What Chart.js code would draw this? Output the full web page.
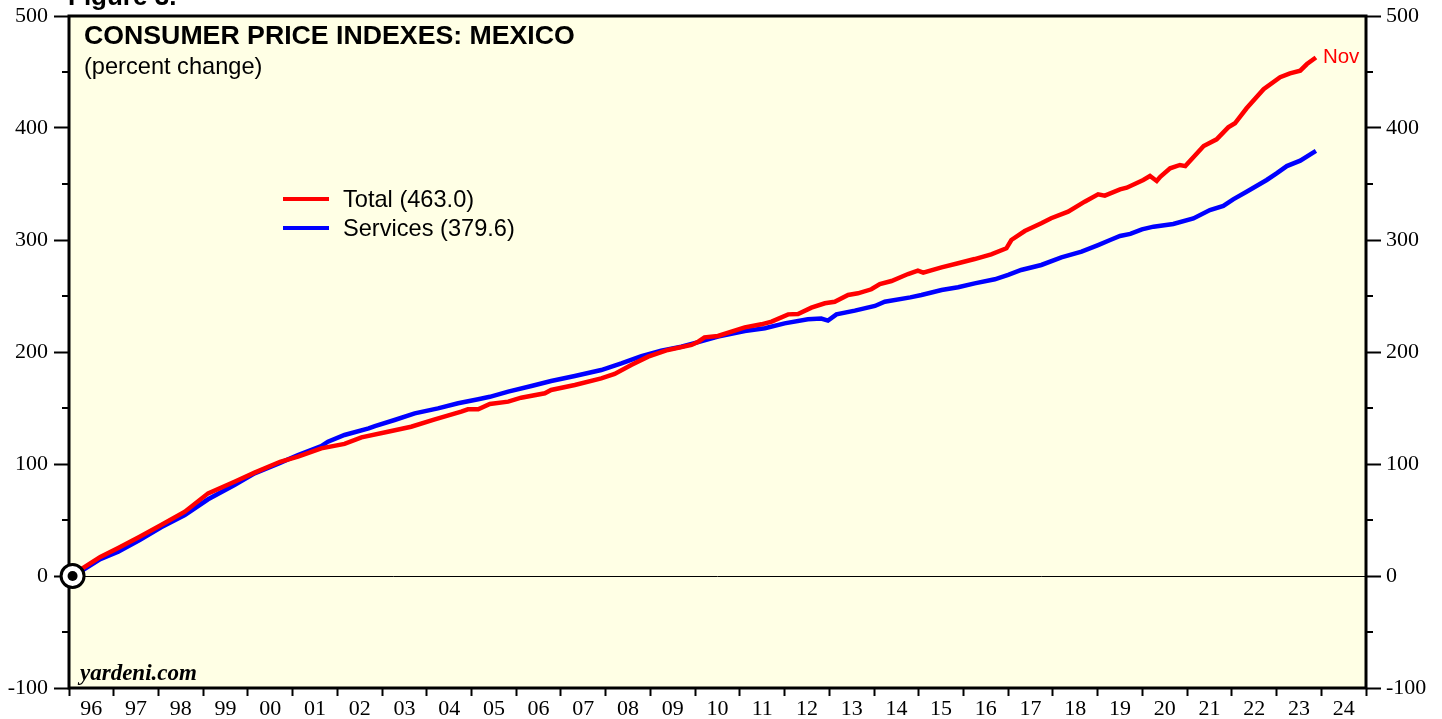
<!DOCTYPE html>
<html>
<head>
<meta charset="utf-8">
<title>Consumer Price Indexes: Mexico</title>
<script src="https://cdn.jsdelivr.net/npm/chart.js@4.4.1/dist/chart.umd.min.js"></script>
<style>
  html, body { margin: 0; padding: 0; background: #fff; }
</style>
</head>
<body>
<canvas id="cpiChart" width="1442" height="719"></canvas>
<script>
  // values (decimal years, percent change since Jan 1996)
  const totalDates = [1996.08, 1996.31, 1996.70, 1997.10, 1997.58, 1998.06, 1998.59, 1999.11, 1999.70, 2000.15,
    2000.72, 2001.12, 2001.64, 2002.16, 2002.54, 2003.13, 2003.65, 2004.18, 2004.77, 2004.92,
    2005.15, 2005.41, 2005.82, 2006.11, 2006.64, 2006.78, 2007.31, 2007.90, 2008.20, 2008.57,
    2008.95, 2009.39, 2009.92, 2010.07, 2010.21, 2010.51, 2011.11, 2011.48, 2011.71, 2012.08,
    2012.30, 2012.60, 2012.90, 2013.12, 2013.42, 2013.64, 2013.94, 2014.13, 2014.39, 2014.76,
    2014.98, 2015.10, 2015.51, 2015.88, 2016.25, 2016.62, 2016.96, 2017.07, 2017.37, 2017.74,
    2017.96, 2018.34, 2018.71, 2019.01, 2019.16, 2019.50, 2019.65, 2020.02, 2020.17, 2020.32,
    2020.40, 2020.62, 2020.84, 2020.96, 2021.37, 2021.66, 2021.92, 2022.07, 2022.33, 2022.71,
    2023.08, 2023.30, 2023.53, 2023.68, 2023.88];
  const totalValues = [0, 7, 17, 25, 35, 45.5, 57.4, 73.8, 84.2, 92.3,
    102, 106.5, 114, 117.9, 123.8, 128.8, 133.3, 139.9, 146.7, 148.8,
    148.8, 153.6, 155.7, 159.2, 163.1, 166.1, 170.5, 176.5, 180.4, 188.4,
    195.8, 201.8, 206.3, 209.2, 213.1, 214.3, 222, 224.7, 227.1, 233.6,
    233.9, 239.6, 243.5, 244.9, 250.9, 252.4, 256, 260.7, 263.4, 269.6,
    272.6, 270.8, 275.6, 279.2, 283, 287.2, 292.6, 300, 308, 314.9,
    319.4, 325.3, 334.2, 340.8, 339.6, 345.2, 346.7, 353.6, 357.1, 352.7,
    356.5, 364, 367, 366, 383.9, 389.9, 400.6, 404.2, 417.6, 434.6,
    445.3, 448.8, 451.2, 457.1, 463.0];

  const servicesDates = [1996.08, 1996.31, 1996.70, 1997.10, 1997.58, 1998.06, 1998.59, 1999.11, 1999.70, 2000.15,
    2000.72, 2001.12, 2001.64, 2001.79, 2002.16, 2002.70, 2002.84, 2003.28, 2003.73, 2004.25,
    2004.70, 2005.15, 2005.41, 2005.82, 2006.34, 2006.78, 2007.31, 2007.90, 2008.35, 2008.80,
    2009.24, 2009.69, 2010.11, 2010.51, 2011.11, 2011.56, 2012.00, 2012.52, 2012.82, 2012.97,
    2013.16, 2013.57, 2014.02, 2014.24, 2014.81, 2015.06, 2015.51, 2015.88, 2016.25, 2016.70,
    2017.00, 2017.29, 2017.74, 2018.19, 2018.64, 2019.01, 2019.28, 2019.50, 2019.73, 2019.99,
    2020.25, 2020.69, 2021.14, 2021.51, 2021.81, 2022.03, 2022.33, 2022.78, 2023.00, 2023.23,
    2023.53, 2023.88];
  const servicesValues = [0, 5.4, 15, 21.7, 32, 43.5, 54.5, 68.5, 81.3, 91.7,
    101, 108, 116, 119.9, 125.9, 131.8, 133.9, 139.3, 145.2, 149.7,
    154.2, 157.8, 160, 164.6, 169.6, 174.1, 178.6, 183.9, 189.9, 196.4,
    201.2, 204.7, 209.2, 213.7, 218.8, 221.2, 225.6, 229.2, 229.8, 228,
    233.6, 236.9, 241.1, 244.9, 248.8, 250.9, 255.4, 257.8, 261.3, 264.9,
    268.8, 273.2, 277.7, 284.5, 289.6, 295.5, 300, 303.6, 305.4, 309.5,
    311.9, 314.3, 319.3, 326.8, 330.4, 336.3, 343.1, 353.6, 359.5, 366,
    370.8, 379.6];

  const yearTicks = [1996, 1997, 1998, 1999, 2000, 2001, 2002, 2003, 2004, 2005, 2006, 2007, 2008, 2009, 2010,
    2011, 2012, 2013, 2014, 2015, 2016, 2017, 2018, 2019, 2020, 2021, 2022, 2023, 2024, 2025];
  const yearLabels = ["96", "97", "98", "99", "00", "01", "02", "03", "04", "05", "06", "07", "08", "09", "10",
    "11", "12", "13", "14", "15", "16", "17", "18", "19", "20", "21", "22", "23", "24"];
  const yMajorTicks = [-100, 0, 100, 200, 300, 400, 500];
  const yMinorTicks = [-50, 50, 150, 250, 350, 450];
  const baseDate = [1996.08];
  const baseValue = [0];

  const legendItems = ["Total (463.0)", "Services (379.6)"];

  const toPoints = (xs, ys) => xs.map((x, i) => ({ x: x, y: ys[i] }));

  // paper background inside the plot frame
  const background = {
    id: "background",
    beforeDraw(chart) {
      const { ctx, chartArea: a } = chart;
      ctx.save();
      ctx.fillStyle = "#ffffe5";
      ctx.fillRect(a.left, a.top, a.right - a.left, a.bottom - a.top);
      ctx.restore();
    }
  };

  // heavy black frame, under the lines and the base marker
  const frame = {
    id: "frame",
    beforeDatasetsDraw(chart) {
      const { ctx, chartArea: a } = chart;
      ctx.save();
      ctx.strokeStyle = "#000";
      ctx.lineWidth = 3;
      ctx.strokeRect(a.left, a.top, a.right - a.left, a.bottom - a.top);
      ctx.restore();
    }
  };

  // short minor ticks, titles, legend and notes
  const decorations = {
    id: "decorations",
    afterDraw(chart) {
      const { ctx, chartArea: a, scales } = chart;
      ctx.save();

      ctx.strokeStyle = "#000";
      ctx.lineWidth = 2;
      yMinorTicks.forEach(v => {
        const py = Math.round(scales.y.getPixelForValue(v));
        ctx.beginPath();
        ctx.moveTo(a.left - 7, py);
        ctx.lineTo(a.left, py);
        ctx.moveTo(a.right, py);
        ctx.lineTo(a.right + 7, py);
        ctx.stroke();
      });

      ctx.fillStyle = "#000";
      ctx.textBaseline = "alphabetic";
      ctx.font = "bold 26px 'Liberation Sans', Arial, sans-serif";
      ctx.fillText("Figure 3.", 68, 5);

      ctx.textBaseline = "middle";
      ctx.font = "bold 26.7px 'Liberation Sans', Arial, sans-serif";
      ctx.fillText("CONSUMER PRICE INDEXES: MEXICO", 84, 37);
      ctx.font = "23.6px 'Liberation Sans', Arial, sans-serif";
      ctx.fillText("(percent change)", 84, 67);

      // legend
      const ds = chart.data.datasets;
      legendItems.forEach((label, i) => {
        const ly = 199 + i * 29;
        ctx.strokeStyle = ds[i].borderColor;
        ctx.lineWidth = 4;
        ctx.beginPath();
        ctx.moveTo(283, ly);
        ctx.lineTo(329, ly);
        ctx.stroke();
        ctx.fillStyle = "#000";
        ctx.fillText(label, 343, ly + 1);
      });

      // last month label
      const last = totalDates.length - 1;
      ctx.fillStyle = "#ff0000";
      ctx.font = "20.5px 'Liberation Sans', Arial, sans-serif";
      ctx.fillText("Nov", scales.x.getPixelForValue(totalDates[last]) + 7,
        scales.y.getPixelForValue(totalValues[last]));

      ctx.fillStyle = "#000";
      ctx.textBaseline = "alphabetic";
      ctx.font = "bold italic 23px 'Liberation Serif', 'Times New Roman', serif";
      ctx.fillText("yardeni.com", 80, 680);

      ctx.restore();
    }
  };

  const serifTicks = { family: "'Liberation Serif', 'Times New Roman', serif", size: 22 };

  const fitY = w => s => { s.width = w; s.paddingTop = 0; s.paddingBottom = 0; };

  new Chart(document.getElementById("cpiChart"), {
    type: "line",
    data: {
      datasets: [
        {
          label: "Total",
          data: toPoints(totalDates, totalValues),
          borderColor: "#ff0000",
          borderWidth: 4.5,
          pointRadius: 0,
          tension: 0,
          order: 2
        },
        {
          label: "Services",
          data: toPoints(servicesDates, servicesValues),
          borderColor: "#0000ff",
          borderWidth: 4.5,
          pointRadius: 0,
          tension: 0,
          order: 3
        },
        {
          label: "base",
          type: "scatter",
          data: toPoints(baseDate, baseValue),
          pointRadius: 11.5,
          pointBackgroundColor: "#ffffff",
          pointBorderColor: "#000000",
          pointBorderWidth: 3,
          clip: false,
          order: 1
        },
        {
          label: "base dot",
          type: "scatter",
          data: toPoints(baseDate, baseValue),
          pointRadius: 5,
          pointBackgroundColor: "#000000",
          pointBorderWidth: 0,
          clip: false,
          order: 0
        }
      ]
    },
    options: {
      responsive: false,
      animation: false,
      layout: { padding: { top: 16, left: 0, right: 0, bottom: 0 } },
      plugins: {
        legend: { display: false },
        tooltip: { enabled: false }
      },
      scales: {
        x: {
          type: "linear",
          min: 1996,
          max: 2025,
          afterBuildTicks: s => { s.ticks = yearTicks.map(v => ({ value: v })); },
          afterFit: s => { s.height = 31; s.paddingLeft = 0; s.paddingRight = 0; },
          border: { display: false },
          grid: { drawOnChartArea: false, tickColor: "#000", tickLength: 8, tickWidth: 2 },
          ticks: {
            color: "#000",
            font: serifTicks,
            padding: 0,
            maxRotation: 0,
            autoSkip: false,
            labelOffset: 22.36,
            callback: (v, i) => yearLabels[i] || ""
          }
        },
        y: {
          position: "left",
          min: -100,
          max: 500,
          afterBuildTicks: s => { s.ticks = yMajorTicks.map(v => ({ value: v })); },
          afterFit: fitY(69),
          border: { display: false },
          grid: {
            color: c => (c.tick && c.tick.value === 0 ? "#000" : "rgba(0,0,0,0)"),
            lineWidth: 1,
            tickColor: "#000",
            tickLength: 15,
            tickWidth: 2
          },
          ticks: { color: "#000", font: serifTicks, padding: 6 }
        },
        y2: {
          position: "right",
          min: -100,
          max: 500,
          afterBuildTicks: s => { s.ticks = yMajorTicks.map(v => ({ value: v })); },
          afterFit: fitY(76),
          border: { display: false },
          grid: { drawOnChartArea: false, tickColor: "#000", tickLength: 15, tickWidth: 2 },
          ticks: { color: "#000", font: serifTicks, padding: 5 }
        }
      }
    },
    plugins: [background, frame, decorations]
  });
</script>
</body>
</html>
